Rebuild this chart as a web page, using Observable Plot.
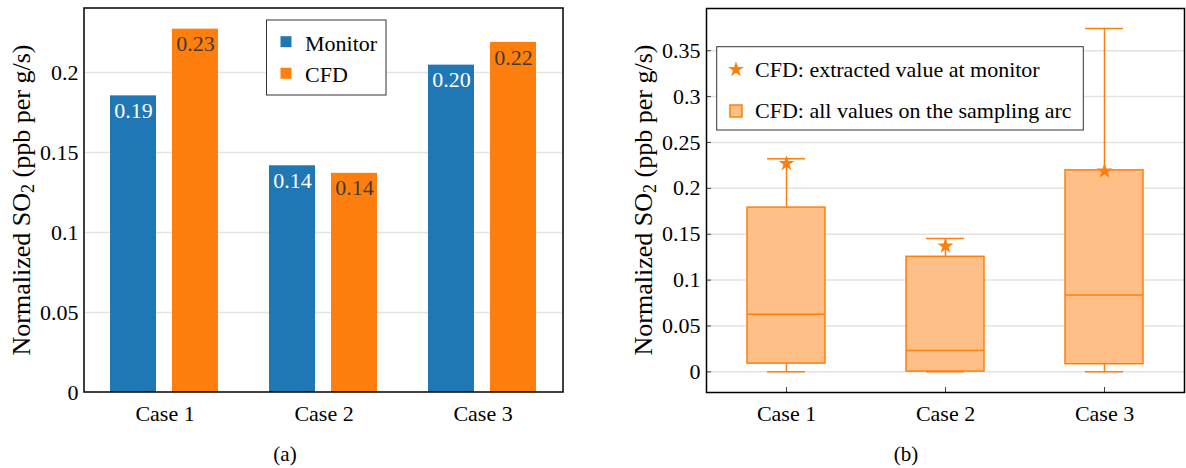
<!DOCTYPE html>
<html>
<head>
<meta charset="utf-8">
<script src="https://cdn.jsdelivr.net/npm/d3@7"></script>
<script src="https://cdn.jsdelivr.net/npm/@observablehq/plot@0.6"></script>
<style>
  html, body { margin: 0; padding: 0; background: white; }
  #wrap { position: relative; width: 1186px; height: 468px; font-family: "Liberation Serif", serif; overflow: hidden; }
  #left { position: absolute; left: 0; top: 0; }
  #right { position: absolute; left: 593px; top: 0; }
  .cap { position: absolute; top: 444px; font-size: 21px; line-height: 21px; transform: translateX(-50%); color: #000; white-space: nowrap; }
</style>
</head>
<body>
<div id="wrap">
  <div id="left"></div>
  <div id="right"></div>
  <div class="cap" style="left:285px">(a)</div>
  <div class="cap" style="left:906px">(b)</div>
</div>
<script>
// ---- data ----
const cases = ["Case 1", "Case 2", "Case 3"];
const seriesNames = ["Monitor", "CFD"];
const monitorValues = [0.1854, 0.1417, 0.2046];
const cfdValues = [0.2271, 0.1370, 0.2188];
const barTicks = [0, 0.05, 0.1, 0.15, 0.2];

const arcMin = [0, 0, 0];
const arcQ1 = [0.009, 0.0003, 0.0083];
const arcMedian = [0.0627, 0.0232, 0.0837];
const arcQ3 = [0.179, 0.1254, 0.2196];
const arcMax = [0.2323, 0.1453, 0.3743];
const boxTicks = [0, 0.05, 0.1, 0.15, 0.2, 0.25, 0.3, 0.35];

const legendA = ["Monitor", "CFD"];
const legendB = ["CFD: extracted value at monitor", "CFD: all values on the sampling arc"];

const BLUE = "#1f77b4", ORANGE = "#ff7f0e", LIGHT = "#ffbf86", GRID = "#e3e3e3";
const FONT = "Liberation Serif";

const barData = cases.flatMap((c, i) => [
  {case: c, series: "Monitor", value: monitorValues[i]},
  {case: c, series: "CFD", value: cfdValues[i]}
]);
const boxData = cases.map((c, i) => ({
  case: c, min: arcMin[i], q1: arcQ1[i], median: arcMedian[i], q3: arcQ3[i], max: arcMax[i], cfd: cfdValues[i]
}));
const fmt2 = d3.format(".2f");
const fmtTick = d3.format("~g");

// ---- panel (a) ----
const W = 593, H = 430;
const A = {ml: 84, mr: 30, mt: 8, mb: 38};
const plotA = Plot.plot({
  width: W, height: H,
  marginLeft: A.ml, marginRight: A.mr, marginTop: A.mt, marginBottom: A.mb,
  style: {fontFamily: FONT, fontSize: "22px", color: "#000", background: "white", overflow: "visible"},
  fx: {domain: cases, padding: 0, label: null, axis: "bottom", tickSize: 0, tickPadding: 13},
  x: {domain: seriesNames, paddingInner: 0.254, paddingOuter: 0.394, axis: null},
  y: {domain: [0, 0.24], ticks: barTicks, tickFormat: fmtTick, tickSize: 0, tickPadding: 7, label: null},
  color: {domain: seriesNames, range: [BLUE, ORANGE]},
  marks: [
    Plot.gridY(barTicks.filter(d => d > 0), {stroke: GRID, strokeOpacity: 1, strokeWidth: 1.5}),
    Plot.barY(barData, {fx: "case", x: "series", y: "value", fill: "series"}),
    Plot.text(barData.filter(d => d.series === "Monitor"), {fx: "case", x: "series", y: "value", text: d => fmt2(d.value), lineAnchor: "top", dy: 6.5, fill: "white"}),
    Plot.text(barData.filter(d => d.series === "CFD"), {fx: "case", x: "series", y: "value", text: d => fmt2(d.value), lineAnchor: "top", dy: 6.5, fill: "#3d3d3d"})
  ]
});
document.getElementById("left").appendChild(plotA);

// ---- panel (b) ----
const B = {ml: 113, mr: 2, mt: 8, mb: 38};
const plotB = Plot.plot({
  width: W, height: H,
  marginLeft: B.ml, marginRight: B.mr, marginTop: B.mt, marginBottom: B.mb,
  style: {fontFamily: FONT, fontSize: "22px", color: "#000", background: "white", overflow: "visible"},
  x: {domain: cases, paddingInner: 0.51, paddingOuter: 0.255, label: null},
  y: {domain: [-0.0225, 0.396], label: null},
  marks: [
    Plot.gridY(boxTicks, {stroke: GRID, strokeOpacity: 1, strokeWidth: 1.5}),
    Plot.axisY(boxTicks, {tickSize: 0, tickPadding: 6, tickFormat: fmtTick, label: null}),
    Plot.axisY(boxTicks, {tickSize: 5, dx: 5, tickFormat: () => "", label: null, stroke: "#444"}),
    Plot.axisX({tickSize: 0, tickPadding: 13, label: null}),
    Plot.axisX({tickSize: 5, dy: -5, tickFormat: () => "", label: null, stroke: "#444"}),
    Plot.ruleX(boxData, {x: "case", y1: "q3", y2: "max", stroke: ORANGE, strokeWidth: 1.5}),
    Plot.ruleX(boxData, {x: "case", y1: "min", y2: "q1", stroke: ORANGE, strokeWidth: 1.5}),
    Plot.tickY(boxData, {x: "case", y: "max", stroke: ORANGE, strokeWidth: 1.5, insetLeft: 20, insetRight: 20}),
    Plot.tickY(boxData, {x: "case", y: "min", stroke: ORANGE, strokeWidth: 1.5, insetLeft: 20, insetRight: 20}),
    Plot.barY(boxData, {x: "case", y1: "q1", y2: "q3", fill: LIGHT, stroke: ORANGE, strokeWidth: 1.5}),
    Plot.tickY(boxData, {x: "case", y: "median", stroke: ORANGE, strokeWidth: 1.5}),
    Plot.dot(boxData, {x: "case", y: "cfd", symbol: "star", r: 5, fill: ORANGE, stroke: "none"}),
    Plot.frame({stroke: "#000", strokeWidth: 1.5})
  ]
});
document.getElementById("right").appendChild(plotB);

// ---- decorations: frame for (a), y labels, legends ----
function svgOf(el) { return el.tagName.toLowerCase() === "svg" ? el : el.querySelector("svg"); }
const sa = d3.select(svgOf(plotA));
const sb = d3.select(svgOf(plotB));

sa.append("rect")
  .attr("x", A.ml).attr("y", A.mt)
  .attr("width", W - A.ml - A.mr).attr("height", H - A.mt - A.mb)
  .attr("fill", "none").attr("stroke", "#000").attr("stroke-width", 1.5);

function yLabel(s, x, y) {
  const t = s.append("text")
    .attr("transform", `translate(${x},${y}) rotate(-90)`)
    .attr("text-anchor", "middle")
    .attr("font-family", FONT).attr("font-size", 26).attr("fill", "#000");
  t.append("tspan").text("Normalized SO");
  t.append("tspan").attr("baseline-shift", "-22%").attr("font-size", 18).text("2");
  t.append("tspan").text(" (ppb per g/s)");
}
yLabel(sa, 29.5, 200);
yLabel(sb, 58.5, 200);

// legend (a)
const la = sa.append("g").attr("font-family", FONT).attr("font-size", 22).attr("text-anchor", "start");
la.append("rect").attr("x", 266.5).attr("y", 20).attr("width", 119.5).attr("height", 75)
  .attr("fill", "white").attr("stroke", "#333").attr("stroke-width", 1);
legendA.forEach((name, i) => {
  const cy = 41.7 + i * 31.6;
  la.append("rect").attr("x", 286 - 5.5).attr("y", cy - 5.5).attr("width", 11).attr("height", 11)
    .attr("fill", i === 0 ? BLUE : ORANGE);
  la.append("text").attr("x", 305).attr("y", cy + 8.8).attr("text-anchor", "start").attr("fill", "#000").text(name);
});

// legend (b)
const lb = sb.append("g").attr("font-family", FONT).attr("font-size", 22).attr("text-anchor", "start");
lb.append("rect").attr("x", 123.7).attr("y", 46.7).attr("width", 366.6).attr("height", 83.3)
  .attr("fill", "white").attr("stroke", "#333").attr("stroke-width", 1);
lb.append("path").attr("transform", "translate(143,69.5)")
  .attr("d", d3.symbol(d3.symbolStar, Math.PI * 5 * 5)()).attr("fill", ORANGE);
lb.append("text").attr("x", 162).attr("y", 77.3).attr("text-anchor", "start").attr("fill", "#000").text(legendB[0]);
lb.append("rect").attr("x", 143 - 6).attr("y", 111 - 6).attr("width", 12).attr("height", 12)
  .attr("fill", LIGHT).attr("stroke", ORANGE).attr("stroke-width", 1.5);
lb.append("text").attr("x", 162).attr("y", 117.8).attr("text-anchor", "start").attr("fill", "#000").text(legendB[1]);
</script>
</body>
</html>
